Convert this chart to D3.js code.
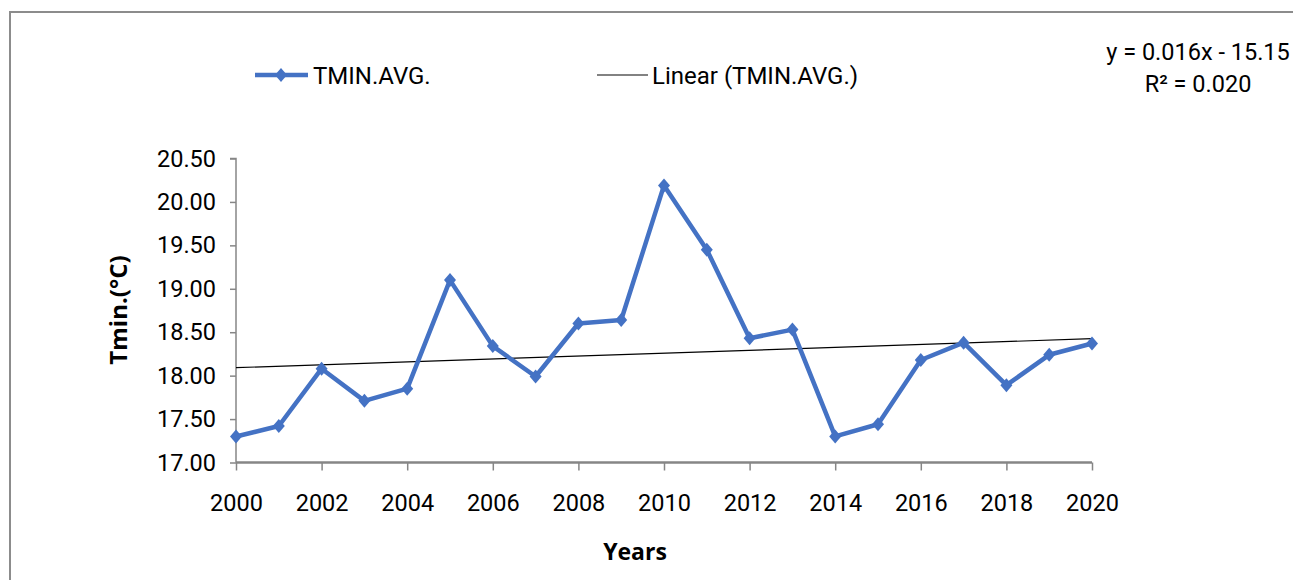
<!DOCTYPE html>
<html><head><meta charset="utf-8">
<script src="https://cdn.jsdelivr.net/npm/d3@7"></script>
<style>
html,body{margin:0;padding:0;background:#fff;}
svg{display:block;}
text{font-family:Roboto,"Liberation Sans",sans-serif;fill:#000;}
.bold{font-family:"Open Sans","Liberation Sans",sans-serif;font-weight:bold;}
</style></head>
<body>
<svg id="chart" width="1293" height="580"></svg>
<script>
const years = [2000,2001,2002,2003,2004,2005,2006,2007,2008,2009,2010,2011,2012,2013,2014,2015,2016,2017,2018,2019,2020];
const tminAvg = [17.30,17.42,18.08,17.71,17.85,19.10,18.34,17.99,18.60,18.64,20.19,19.45,18.43,18.53,17.30,17.44,18.18,18.38,17.89,18.24,18.37];
const yTicks = [17.00,17.50,18.00,18.50,19.00,19.50,20.00,20.50];
const xTicks = [2000,2002,2004,2006,2008,2010,2012,2014,2016,2018,2020];
const seriesName = "TMIN.AVG.";
const trendName = "Linear (TMIN.AVG.)";
const equationLines = ["y = 0.016x - 15.15", "R² = 0.020"];
const xTitle = "Years";
const yTitle = "Tmin.(°C)";

const svg = d3.select("#chart");
const blue = "#4472C4", axisCol = "#868686";

// frame
svg.append("path").attr("d","M10,600 L10,12 L1300,12").attr("fill","none").attr("stroke","#8c8c8c").attr("stroke-width",2);

const x = d3.scaleLinear().domain([2000,2020]).range([236,1092]);
const y = d3.scaleLinear().domain([17,20.5]).range([462.5,158.5]);

// y axis
const ya = svg.append("g").attr("transform","translate(236,0)")
  .call(d3.axisLeft(y).tickValues(yTicks).tickFormat(d3.format(".2f")).tickSize(6).tickPadding(14));
ya.select(".domain").attr("stroke",axisCol).attr("stroke-width",1.5).attr("d","M-6,158.5H0V462.5");
ya.selectAll(".tick line").attr("stroke",axisCol).attr("stroke-width",1.5);
ya.selectAll(".tick text").attr("font-size",23.5).attr("font-family","Roboto").attr("fill","#000");

// x axis
const xa = svg.append("g").attr("transform","translate(0,462.5)")
  .call(d3.axisBottom(x).tickValues(xTicks).tickFormat(d3.format("d")).tickSize(8).tickPadding(24));
xa.select(".domain").attr("stroke",axisCol).attr("stroke-width",2.5).attr("d","M236,0H1092");
xa.selectAll(".tick line").attr("stroke",axisCol).attr("stroke-width",1.5);
xa.selectAll(".tick text").attr("font-size",23.5).attr("font-family","Roboto").attr("fill","#000");

// trend (least squares from data)
const n = years.length;
const mx = d3.mean(years), my = d3.mean(tminAvg);
const slope = d3.sum(years.map((v,i)=>(v-mx)*(tminAvg[i]-my))) / d3.sum(years.map(v=>(v-mx)*(v-mx)));
const icpt = my - slope*mx;
svg.append("line")
  .attr("x1",x(2000)).attr("y1",y(icpt+slope*2000))
  .attr("x2",x(2020)).attr("y2",y(icpt+slope*2020))
  .attr("stroke","#000").attr("stroke-width",1.2);

// series line
const line = d3.line().x((d,i)=>x(years[i])).y(d=>y(d));
svg.append("path").datum(tminAvg).attr("d",line).attr("fill","none").attr("stroke",blue).attr("stroke-width",4.5).attr("stroke-linejoin","round");

const diamond = "M0,-7L6,0L0,7L-6,0Z";
svg.selectAll(".pt").data(tminAvg).enter().append("path")
  .attr("d",diamond).attr("fill",blue)
  .attr("transform",(d,i)=>`translate(${x(years[i])},${y(d)})`);

// legend
svg.append("line").attr("x1",255).attr("x2",308).attr("y1",75).attr("y2",75).attr("stroke",blue).attr("stroke-width",4.5);
svg.append("path").attr("d",diamond).attr("fill",blue).attr("transform","translate(281,75)");
svg.append("text").attr("x",313).attr("y",84).attr("font-size",24).text(seriesName);
svg.append("line").attr("x1",597).attr("x2",648).attr("y1",75).attr("y2",75).attr("stroke","#595959").attr("stroke-width",1.5);
svg.append("text").attr("x",652).attr("y",84).attr("font-size",24).text(trendName);

// equation
svg.append("text").attr("x",1198).attr("y",60).attr("text-anchor","middle").attr("font-size",23.5).text(equationLines[0]);
svg.append("text").attr("x",1198).attr("y",92).attr("text-anchor","middle").attr("font-size",23.5).text(equationLines[1]);

// titles
svg.append("text").attr("class","bold").attr("x",635).attr("y",560).attr("text-anchor","middle").attr("font-size",23).text(xTitle);
svg.append("text").attr("class","bold").attr("transform","translate(127,310) rotate(-90)").attr("text-anchor","middle").attr("font-size",24).text(yTitle);
</script>
</body></html>
